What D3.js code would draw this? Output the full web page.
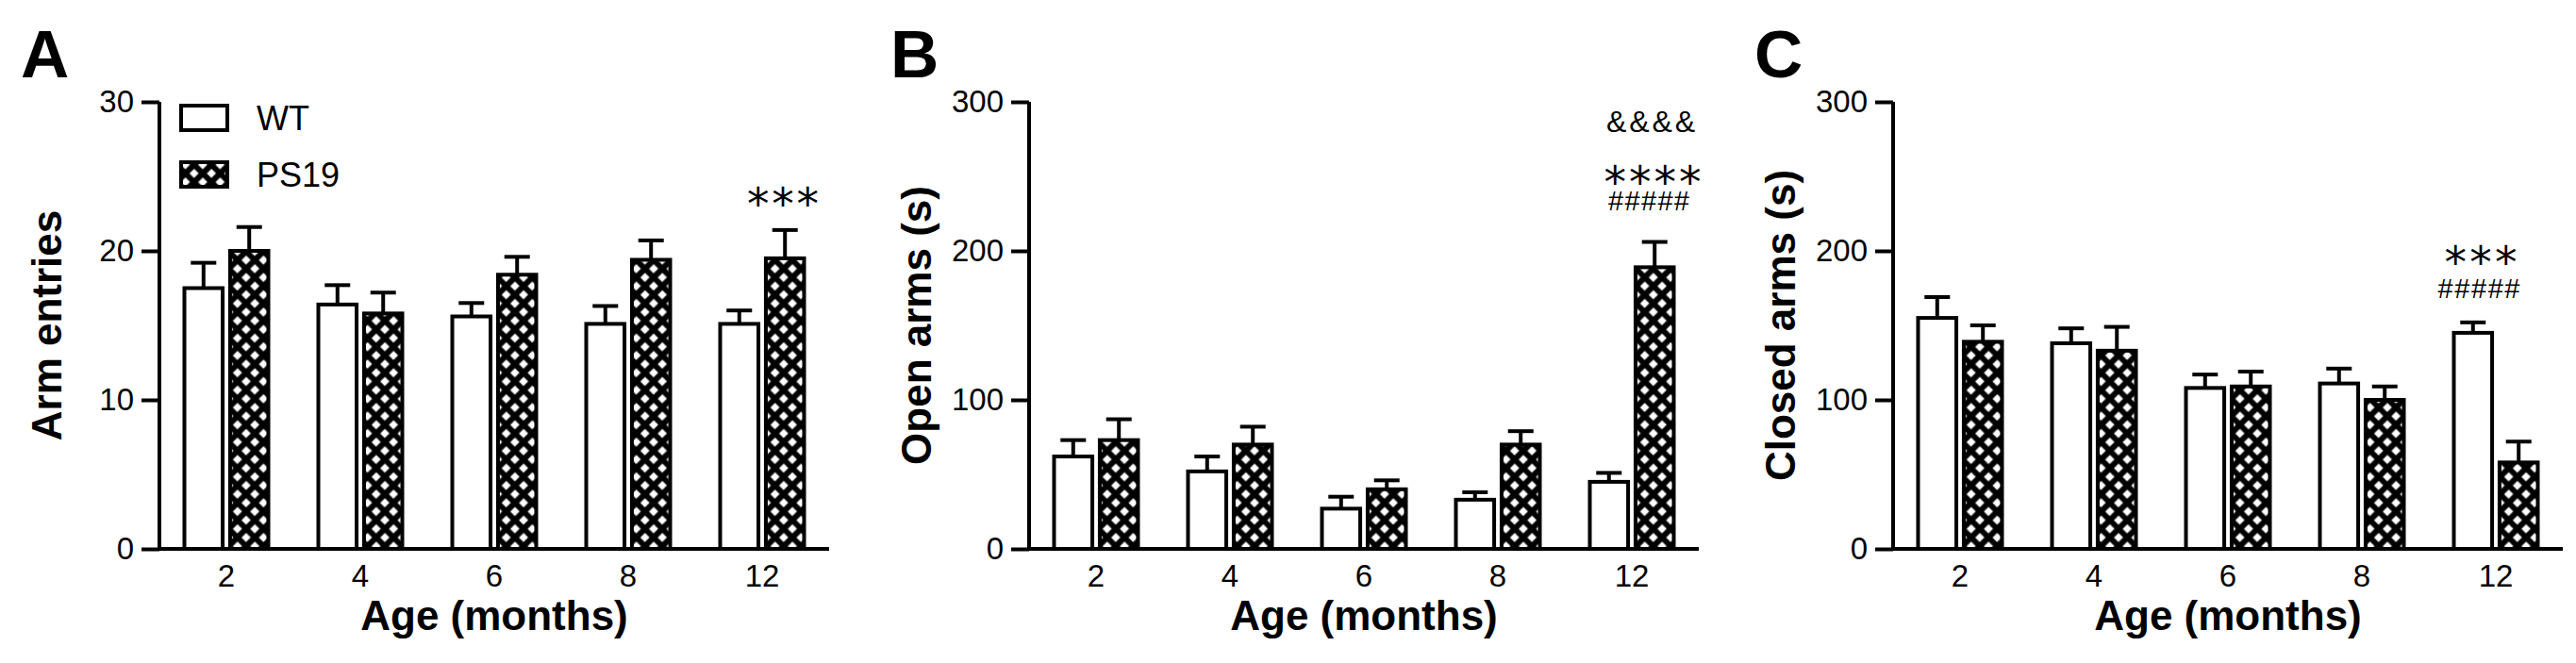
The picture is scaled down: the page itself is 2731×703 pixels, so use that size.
<!DOCTYPE html>
<html>
<head>
<meta charset="utf-8">
<script src="https://cdn.jsdelivr.net/npm/d3@7"></script>
<style>
  html, body { margin: 0; padding: 0; background: #fff; }
  svg { display: block; }
</style>
</head>
<body>
<div id="chart"></div>
<script>
// ages on the x axis, two genotypes per age
const ages = ["2", "4", "6", "8", "12"];
const genotypes = ["WT", "PS19"];

// A: arm entries (mean, SEM)
const entriesWT = [17.5, 16.4, 15.6, 15.1, 15.1];
const entriesWTSem = [1.7, 1.3, 0.9, 1.2, 0.9];
const entriesPS19 = [20.0, 15.8, 18.4, 19.4, 19.5];
const entriesPS19Sem = [1.6, 1.4, 1.2, 1.3, 1.9];

// B: time in open arms (s)
const openWT = [62, 52, 27, 33, 45];
const openWTSem = [11, 10, 8, 5, 6];
const openPS19 = [73, 70, 40, 70, 189];
const openPS19Sem = [14, 12, 6, 9, 17];

// C: time in closed arms (s)
const closedWT = [155, 138, 108, 111, 145];
const closedWTSem = [14, 10, 9, 10, 7];
const closedPS19 = [139, 133, 109, 100, 58];
const closedPS19Sem = [11, 16, 10, 9, 14];

const yTicksA = [0, 10, 20, 30];
const yTicksBC = [0, 100, 200, 300];

// significance marks above the 12-month group
const marksA = ["***"];
const marksB = ["&&&&", "****", "#####"];
const marksC = ["***", "#####"];

const W = 2731, H = 703;
const plotTop = 108, zero = 582, plotW = 710;

const svg = d3.select("#chart").append("svg")
  .attr("width", W).attr("height", H)
  .attr("viewBox", `0 0 ${W} ${H}`);

const defs = svg.append("defs");
const hatch = defs.append("pattern")
  .attr("id", "xhatch")
  .attr("patternUnits", "userSpaceOnUse")
  .attr("width", 13).attr("height", 13)
  .attr("patternTransform", "rotate(45)");
hatch.append("rect").attr("width", 13).attr("height", 13).attr("fill", "#fff");
hatch.append("path")
  .attr("d", "M0,6.5 H13 M6.5,0 V13")
  .attr("stroke", "#000").attr("stroke-width", 6.2);

const FONT = "'Liberation Sans', Arial, Helvetica, sans-serif";

const panels = [
  { letter: "A", x0: 169, title: "Arm entries", max: 30, ticks: yTicksA,
    wt: entriesWT, wtSem: entriesWTSem, ps: entriesPS19, psSem: entriesPS19Sem, marks: marksA, legend: true },
  { letter: "B", x0: 1091, title: "Open arms (s)", max: 300, ticks: yTicksBC,
    wt: openWT, wtSem: openWTSem, ps: openPS19, psSem: openPS19Sem, marks: marksB },
  { letter: "C", x0: 2007, title: "Closed arms (s)", max: 300, ticks: yTicksBC,
    wt: closedWT, wtSem: closedWTSem, ps: closedPS19, psSem: closedPS19Sem, marks: marksC },
];

// mark placement (offset from the 12-month group centre, baseline, width)
const markLayout = {
  A: [{ dx: 22, y: 232, w: 76, size: 47 }],
  B: [{ dx: 20, y: 140, w: 94, size: 32 },
      { dx: 22, y: 209, w: 103, size: 47 },
      { dx: 18, y: 223, w: 86, size: 29 }],
  C: [{ dx: -16, y: 294, w: 77, size: 47 },
      { dx: -18, y: 316, w: 87, size: 29 }],
};

panels.forEach(p => {
  const g = svg.append("g").attr("transform", `translate(${p.x0},0)`);

  const x = d3.scaleBand().domain(ages).range([0, plotW]);
  const xi = d3.scaleBand().domain(genotypes).range([x.bandwidth() / 2 - 46.5, x.bandwidth() / 2 + 46.5]).paddingInner(0.08);
  const y = d3.scaleLinear().domain([0, p.max]).range([zero, plotTop]);

  const rows = ages.map((a, i) => [
    { age: a, g: "WT", v: p.wt[i], e: p.wtSem[i] },
    { age: a, g: "PS19", v: p.ps[i], e: p.psSem[i] },
  ]).flat();

  // error bars (upper only)
  const eb = g.append("g").attr("stroke", "#000").attr("stroke-width", 4).attr("fill", "none");
  rows.forEach(d => {
    const cx = x(d.age) + xi(d.g) + xi.bandwidth() / 2;
    eb.append("line").attr("x1", cx).attr("x2", cx).attr("y1", y(d.v)).attr("y2", y(d.v + d.e));
    eb.append("line").attr("x1", cx - 13.5).attr("x2", cx + 13.5).attr("y1", y(d.v + d.e)).attr("y2", y(d.v + d.e));
  });

  g.append("g").selectAll("rect")
    .data(rows)
    .join("rect")
    .attr("x", d => x(d.age) + xi(d.g) + 2)
    .attr("width", xi.bandwidth() - 4)
    .attr("y", d => y(d.v))
    .attr("height", d => zero - y(d.v))
    .attr("fill", d => d.g === "WT" ? "#fff" : "url(#xhatch)")
    .attr("stroke", "#000")
    .attr("stroke-width", 4);

  // y axis
  const ya = g.append("g")
    .call(d3.axisLeft(y).tickValues(p.ticks).tickSize(19).tickPadding(8).tickSizeOuter(0));
  ya.select(".domain").attr("stroke-width", 4).attr("d", `M0,${plotTop}V${zero}`);
  ya.selectAll(".tick line").attr("stroke-width", 4);
  ya.selectAll(".tick text").attr("font-family", FONT).attr("font-size", 33).attr("fill", "#000");

  // x axis: line only, labels under groups
  const xa = g.append("g").attr("transform", `translate(0,${zero})`)
    .call(d3.axisBottom(x).tickSize(0).tickPadding(17));
  xa.select(".domain").attr("stroke-width", 4).attr("d", `M0,0H${plotW}`);
  xa.selectAll(".tick text").attr("font-family", FONT).attr("font-size", 33).attr("fill", "#000");

  g.append("text")
    .attr("x", plotW / 2).attr("y", 668)
    .attr("text-anchor", "middle")
    .attr("font-family", FONT).attr("font-weight", "bold").attr("font-size", 44)
    .text("Age (months)");

  g.append("text")
    .attr("transform", `translate(-104,${(plotTop + zero) / 2}) rotate(-90)`)
    .attr("text-anchor", "middle")
    .attr("font-family", FONT).attr("font-weight", "bold").attr("font-size", 44)
    .text(p.title);

  g.append("text")
    .attr("x", -147).attr("y", 82)
    .attr("font-family", FONT).attr("font-weight", "bold").attr("font-size", 71)
    .text(p.letter);

  const cx12 = x("12") + x.bandwidth() / 2;
  p.marks.forEach((m, i) => {
    const L = markLayout[p.letter][i];
    g.append("text")
      .attr("x", cx12 + L.dx).attr("y", L.y)
      .attr("text-anchor", "middle")
      .attr("font-family", m.includes("*") ? "'DejaVu Sans', sans-serif" : FONT)
      .attr("font-size", L.size)
      .attr("textLength", L.w)
      .attr("lengthAdjust", "spacing")
      .text(m);
  });

  if (p.legend) {
    const lg = g.append("g");
    genotypes.forEach((gt, i) => {
      lg.append("rect")
        .attr("x", 23).attr("y", 112 + i * 60)
        .attr("width", 49).attr("height", 26)
        .attr("fill", gt === "WT" ? "#fff" : "url(#xhatch)")
        .attr("stroke", "#000").attr("stroke-width", 4);
      lg.append("text")
        .attr("x", 103).attr("y", 138 + i * 60)
        .attr("font-family", FONT).attr("font-size", 36)
        .text(gt);
    });
  }
});
</script>
</body>
</html>
